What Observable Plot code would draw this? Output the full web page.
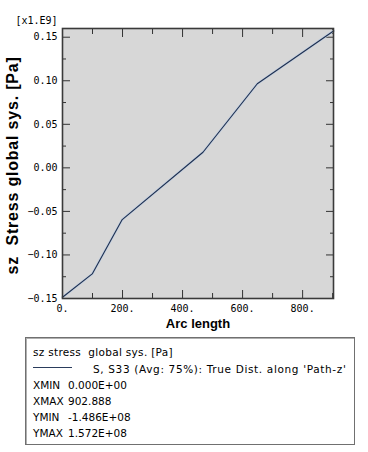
<!DOCTYPE html>
<html>
<head>
<meta charset="utf-8">
<script src="https://cdn.jsdelivr.net/npm/d3@7"></script>
<script src="https://cdn.jsdelivr.net/npm/@observablehq/plot@0.6"></script>
<style>
  html, body { margin: 0; padding: 0; background: #ffffff; }
  #chart { position: relative; width: 368px; height: 452px; }
  #legend {
    position: absolute; left: 25px; top: 337px; width: 330px; height: 108px;
    border: 1px solid #707070; box-shadow: inset 1px 1px 0 #b0b0b0;
    font-family: "DejaVu Sans", Verdana, sans-serif; font-size: 10.5px; color: #000;
    box-sizing: border-box;
  }
  #legend .row { position: absolute; left: 7px; white-space: pre; line-height: 13px; }
  #legend .swatch { position: absolute; left: 7px; width: 39px; height: 0; border-top: 1.2px solid #2a3c5c; }
</style>
</head>
<body>
<div id="chart"></div>
<script>
// Data (arc length, stress in units of 1e9 Pa)
const arcLength = [0, 99, 199, 468, 649, 902.888];
const stressS33 = [-0.1486, -0.1218, -0.0594, 0.0179, 0.0966, 0.1572];

const xMajorTicks = [0, 200, 400, 600, 800];
const xMinorTicks = [100, 300, 500, 700, 900];
const yMajorTicks = [-0.15, -0.10, -0.05, 0.00, 0.05, 0.10, 0.15];
const yMinorTicks = [-0.125, -0.075, -0.025, 0.025, 0.075, 0.125];

const xLabel = "Arc length";
const yLabel = "sz  Stress global sys. [Pa]";
const scaleNote = "[x1.E9]";
const legendTitle = "sz stress  global sys. [Pa]";
const seriesName = "S, S33 (Avg: 75%): True Dist. along 'Path-z'";
const statNames = ["XMIN", "XMAX", "YMIN", "YMAX"];
const statValues = ["0.000E+00", "902.888", "-1.486E+08", "1.572E+08"];

const data = arcLength.map((x, i) => ({x, y: stressS33[i]}));

const mono = "'DejaVu Sans Mono', monospace";
const bold = "'Liberation Sans', Arial, sans-serif";

const plot = Plot.plot({
  width: 368,
  height: 335,
  marginLeft: 62,
  marginRight: 35,
  marginTop: 28,
  marginBottom: 37,
  style: {background: "#ffffff", fontFamily: mono, fontSize: "10px", color: "#000"},
  x: {domain: [0, 902.888], axis: null},
  y: {domain: [-0.15, 0.16], axis: null},
  marks: [
    Plot.frame({fill: "#d7d7d7"}),
    Plot.axisX({anchor: "bottom", ticks: xMajorTicks, tickSize: -8, tickPadding: 14,
      tickFormat: d => d + ".", label: null, stroke: "#333", fontFamily: mono, fontSize: 10}),
    Plot.axisX({anchor: "bottom", ticks: xMinorTicks, tickSize: -5, tickFormat: () => "", label: null, stroke: "#333"}),
    Plot.axisX({anchor: "top", ticks: xMajorTicks, tickSize: -8, tickFormat: () => "", label: null, stroke: "#333"}),
    Plot.axisX({anchor: "top", ticks: xMinorTicks, tickSize: -5, tickFormat: () => "", label: null, stroke: "#333"}),
    Plot.axisY({anchor: "left", ticks: yMajorTicks, tickSize: -8, tickPadding: 13,
      tickFormat: d3.format(".2f"), label: null, stroke: "#333", fontFamily: mono, fontSize: 10}),
    Plot.axisY({anchor: "left", ticks: yMinorTicks, tickSize: -4, tickFormat: () => "", label: null, stroke: "#333"}),
    Plot.axisY({anchor: "right", ticks: yMajorTicks, tickSize: -8, tickFormat: () => "", label: null, stroke: "#333"}),
    Plot.axisY({anchor: "right", ticks: yMinorTicks, tickSize: -4, tickFormat: () => "", label: null, stroke: "#333"}),
    Plot.line(data, {x: "x", y: "y", stroke: "#c3cfe0", strokeWidth: 2.6}),
    Plot.line(data, {x: "x", y: "y", stroke: "#1e2f4e", strokeWidth: 1.1}),
    Plot.frame({stroke: "#3a3a3a", strokeWidth: 1.6}),
    Plot.text([xLabel], {frameAnchor: "bottom", dy: 25, lineAnchor: "middle", textAnchor: "middle",
      fontFamily: bold, fontWeight: "bold", fontSize: 13, fill: "#000"}),
    Plot.text([yLabel], {frameAnchor: "left", dx: -50, dy: 2, rotate: -90, lineAnchor: "middle", textAnchor: "middle",
      fontFamily: bold, fontWeight: "bold", fontSize: 16, fill: "#000"}),
    Plot.text([scaleNote], {frameAnchor: "top-left", dx: -47, dy: -5, lineAnchor: "bottom", textAnchor: "start",
      fontFamily: mono, fontSize: 10, fill: "#000"})
  ]
});

d3.select(plot).selectAll("text")
  .filter(function() { return this.textContent === yLabel; })
  .attr("letter-spacing", "0.8px");

const chart = document.getElementById("chart");
chart.appendChild(plot);

const legend = document.createElement("div");
legend.id = "legend";
const rowTops = [8, 24.5, 41, 57, 72.5, 89];
function addRow(text, top, left, spacing) {
  const r = document.createElement("div");
  r.className = "row";
  r.style.top = top + "px";
  if (left !== undefined) r.style.left = left + "px";
  if (spacing) r.style.letterSpacing = spacing;
  r.textContent = text;
  legend.appendChild(r);
}
addRow(legendTitle, rowTops[0], 7, "0.3px");
const sw = document.createElement("div");
sw.className = "swatch";
sw.style.top = "29px";
legend.appendChild(sw);
addRow(seriesName, rowTops[1], 67, "0.65px");
statNames.forEach((n, i) => {
  addRow(n, rowTops[i + 2], 7);
  addRow(statValues[i], rowTops[i + 2], 42);
});
chart.appendChild(legend);
</script>
</body>
</html>
